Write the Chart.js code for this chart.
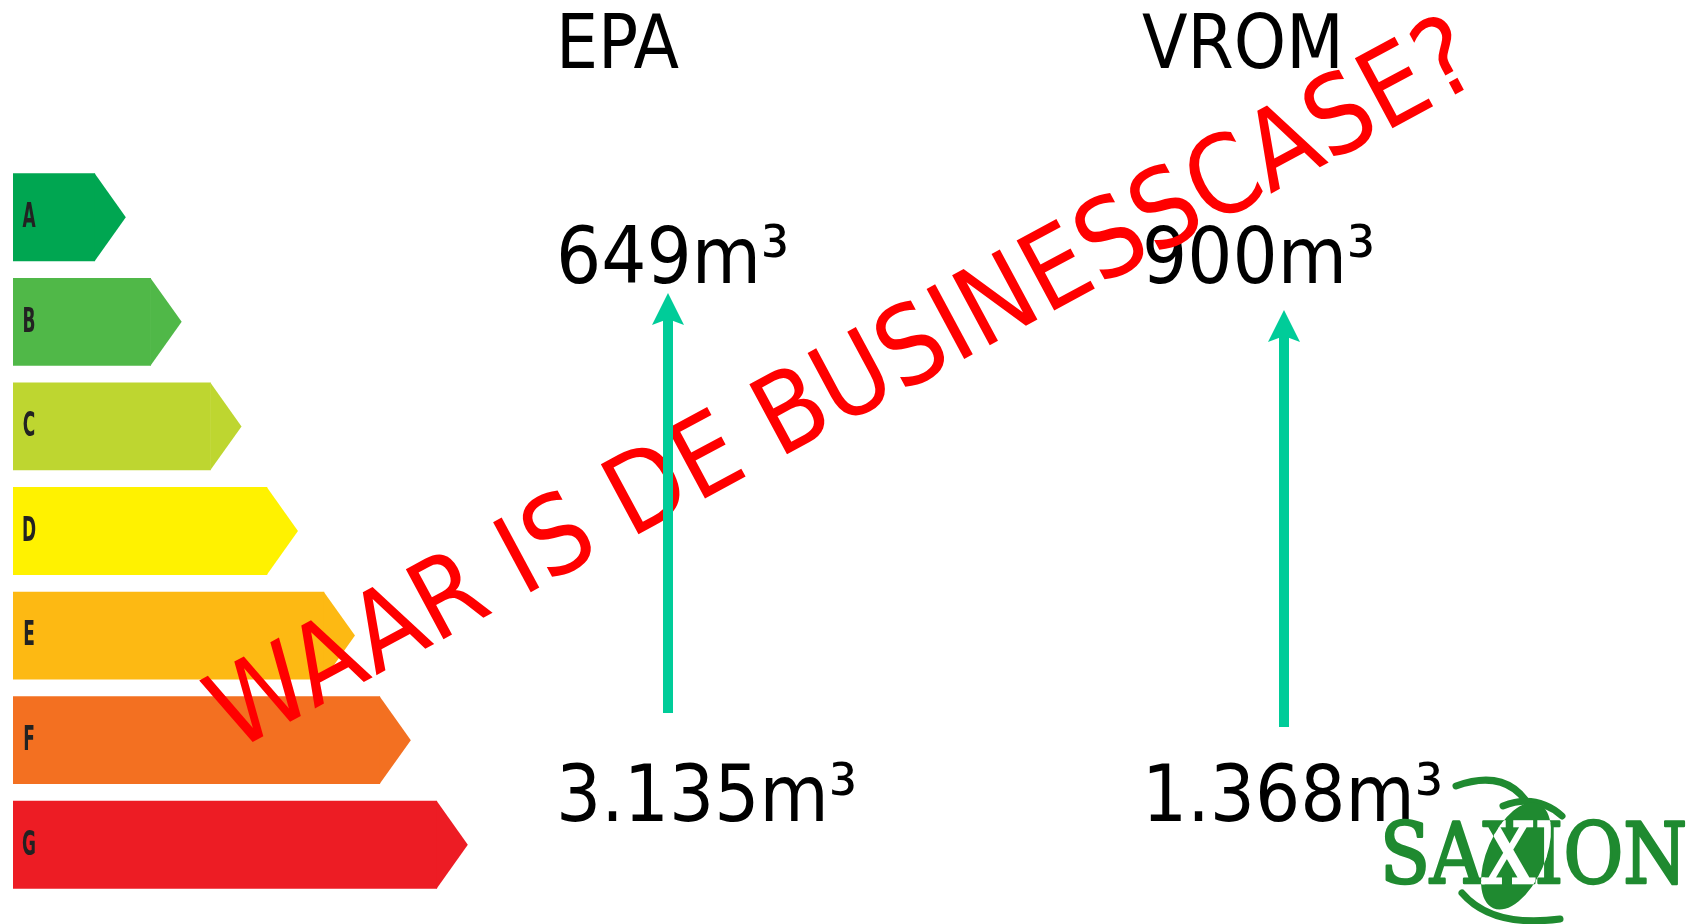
<!DOCTYPE html>
<html>
<head>
<meta charset="utf-8">
<title>Energielabel EPA / VROM</title>
<script src="https://cdn.jsdelivr.net/npm/chart.js@4.4.1/dist/chart.umd.min.js"></script>
<style>
    html, body { margin: 0; padding: 0; background: #ffffff; }
    #chart { display: block; }
</style>
</head>
<body>
<canvas id="chart" width="1693" height="924"></canvas>
<script>
const energyClasses = ['A', 'B', 'C', 'D', 'E', 'F', 'G'];
const classLengths = [1.44, 2.42, 3.47, 4.46, 5.46, 6.44, 7.44];
const classColors = ['#00a651', '#50b848', '#bed630', '#fff200', '#fdb913', '#f37021', '#ed1c24'];

// Gasverbruik: voor en na, per methode
const methods = ['EPA', 'VROM'];
const usageBefore = ['3.135', '1.368'];
const usageAfter = ['649', '900'];
const unit = 'm³';
const slogan = 'WAAR IS DE BUSINESSCASE?';
const logoText = 'SAXION';

// Plaatsing van de teksten en pijlen
const layout = {
    columns: [
        { x: 556, arrowX: 668, arrowBottom: 713, arrowTip: 293 },
        { x: 1142, arrowX: 1284, arrowBottom: 727, arrowTip: 310 }
    ],
    titleBaseline: 68,
    afterBaseline: 283,
    beforeBaseline: 821,
    titleSize: 74,
    valueSize: 79,
    slogan: { x: 234, y: 752, angle: -28.3, size: 109 },
    logo: { x: 1380, y: 883, width: 307, size: 84 }
};

const arrowColor = '#00cc99';
const logoColor = '#1f8a30';

// Kijk of de smalle DejaVu varianten er zijn, anders horizontaal schalen
const probe = document.createElement('canvas').getContext('2d');
function fontWidth(font, txt) {
    probe.font = font;
    return probe.measureText(txt).width;
}
const sansCondensed = fontWidth('100px "DejaVu Sans Condensed", "DejaVu Sans"', 'EPA WAAR') <
    fontWidth('100px "DejaVu Sans"', 'EPA WAAR') * 0.97;
const serifCondensed = fontWidth('100px "DejaVu Serif Condensed", "DejaVu Serif"', logoText) <
    fontWidth('100px "DejaVu Serif"', logoText) * 0.97;

function drawLabel(ctx, txt, x, y, size, color, weight) {
    ctx.save();
    ctx.translate(x, y);
    if (sansCondensed) {
        ctx.font = (weight || 'normal') + ' ' + size + 'px "DejaVu Sans Condensed"';
    } else {
        ctx.font = (weight || 'normal') + ' ' + size + 'px "DejaVu Sans"';
        ctx.scale(0.9, 1);
    }
    ctx.fillStyle = color;
    ctx.textAlign = 'left';
    ctx.textBaseline = 'alphabetic';
    ctx.fillText(txt, 0, 0);
    ctx.restore();
}

function drawArrow(ctx, x, bottom, tip) {
    ctx.fillStyle = arrowColor;
    ctx.fillRect(x - 5, tip + 26, 10, bottom - tip - 26);
    ctx.beginPath();
    ctx.moveTo(x, tip);
    ctx.lineTo(x + 16, tip + 32);
    ctx.lineTo(x, tip + 26);
    ctx.lineTo(x - 16, tip + 32);
    ctx.closePath();
    ctx.fill();
}

function drawLogo(ctx) {
    const L = layout.logo;
    ctx.save();
    ctx.strokeStyle = logoColor;
    ctx.fillStyle = logoColor;
    ctx.lineWidth = 7;
    ctx.lineCap = 'round';

    // bogen rond de X
    ctx.beginPath();
    ctx.moveTo(1456, 786);
    ctx.quadraticCurveTo(1512, 766, 1534, 815);
    ctx.stroke();
    ctx.beginPath();
    ctx.moveTo(1503, 806);
    ctx.quadraticCurveTo(1536, 793, 1562, 816);
    ctx.stroke();
    ctx.beginPath();
    ctx.moveTo(1462, 893);
    ctx.quadraticCurveTo(1492, 928, 1560, 919);
    ctx.stroke();

    // lens achter de X
    const lens = new Path2D();
    lens.ellipse(1516, 856, 29, 57, 0.41, 0, Math.PI * 2);
    ctx.fill(lens);

    // tekst
    ctx.translate(L.x, L.y);
    ctx.font = L.size + 'px ' + (serifCondensed ? '"DejaVu Serif Condensed"' : '"DejaVu Serif"');
    const w = ctx.measureText(logoText).width;
    ctx.scale(L.width / w, 1);
    ctx.textBaseline = 'alphabetic';
    ctx.lineWidth = 2.5;
    ctx.lineJoin = 'round';
    ctx.fillText(logoText, 0, 0);
    ctx.strokeText(logoText, 0, 0);
    ctx.restore();

    // X wit binnen de lens
    ctx.save();
    ctx.clip(lens);
    ctx.translate(L.x, L.y);
    ctx.font = L.size + 'px ' + (serifCondensed ? '"DejaVu Serif Condensed"' : '"DejaVu Serif"');
    ctx.scale(L.width / w, 1);
    ctx.fillStyle = '#ffffff';
    ctx.strokeStyle = '#ffffff';
    ctx.lineWidth = 2.5;
    ctx.fillText(logoText, 0, 0);
    ctx.strokeText(logoText, 0, 0);
    ctx.restore();
}

// Pijlpunten en letters op de balken
const labelTips = {
    id: 'labelTips',
    afterDatasetsDraw(chart) {
        const ctx = chart.ctx;
        const meta = chart.getDatasetMeta(0);
        const yScale = chart.scales.y;
        meta.data.forEach((bar, i) => {
            const p = bar.getProps(['x', 'y', 'height'], true);
            const h = p.height;
            ctx.save();
            ctx.fillStyle = classColors[i];
            ctx.beginPath();
            ctx.moveTo(p.x - 0.5, p.y - h / 2);
            ctx.lineTo(p.x + h * 0.35, p.y);
            ctx.lineTo(p.x - 0.5, p.y + h / 2);
            ctx.closePath();
            ctx.fill();

            // smalle letter
            ctx.translate(chart.chartArea.left + 16, yScale.getPixelForTick(i) + 1);
            ctx.scale(0.5, 1);
            ctx.font = 'bold 34px "DejaVu Sans"';
            ctx.fillStyle = '#222222';
            ctx.textAlign = 'center';
            ctx.textBaseline = 'middle';
            ctx.fillText(energyClasses[i], 0, 0);
            ctx.restore();
        });
    },
    afterDraw(chart) {
        const ctx = chart.ctx;

        methods.forEach((m, i) => {
            const col = layout.columns[i];
            drawLabel(ctx, m, col.x, layout.titleBaseline, layout.titleSize, '#000000');
            drawLabel(ctx, usageAfter[i] + unit, col.x, layout.afterBaseline, layout.valueSize, '#000000');
            drawLabel(ctx, usageBefore[i] + unit, col.x, layout.beforeBaseline, layout.valueSize, '#000000');
        });

        const s = layout.slogan;
        ctx.save();
        ctx.translate(s.x, s.y);
        ctx.rotate(s.angle * Math.PI / 180);
        drawLabel(ctx, slogan, 0, 0, s.size, '#ff0000');
        ctx.restore();

        layout.columns.forEach(col => drawArrow(ctx, col.arrowX, col.arrowBottom, col.arrowTip));

        drawLogo(ctx);
    }
};

const ctx = document.getElementById('chart').getContext('2d');
new Chart(ctx, {
    type: 'bar',
    data: {
        labels: energyClasses,
        datasets: [{
            data: classLengths,
            backgroundColor: classColors,
            borderWidth: 0,
            barPercentage: 0.84,
            categoryPercentage: 1
        }]
    },
    options: {
        responsive: false,
        animation: false,
        devicePixelRatio: 1,
        indexAxis: 'y',
        events: [],
        layout: {
            padding: { left: 13, right: 1110, top: 165, bottom: 27 }
        },
        plugins: {
            legend: { display: false },
            tooltip: { enabled: false }
        },
        scales: {
            x: { display: false, min: 0, max: 10 },
            y: { display: false }
        }
    },
    plugins: [labelTips]
});
</script>
</body>
</html>
